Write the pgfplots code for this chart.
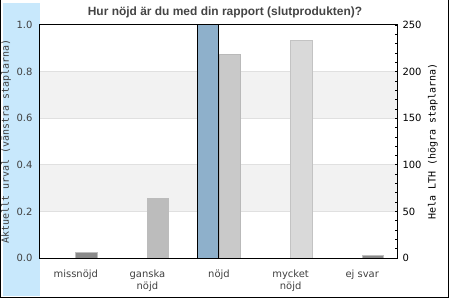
\documentclass[border=0pt]{standalone}
\usepackage{pgfplots}
\pgfplotsset{compat=1.18}
\usepackage{fontspec}
\setmainfont{DejaVu Sans}
\setmonofont{DejaVu Sans Mono}
\newfontfamily\titlefont{Liberation Sans}
\definecolor{band}{HTML}{C8E8FC}
\definecolor{bandgray}{HTML}{F2F2F2}
\definecolor{gridgray}{HTML}{E0E0E0}
\definecolor{barblue}{HTML}{8EB0CB}
\definecolor{tickgray}{HTML}{404040}
\definecolor{titlegray}{HTML}{444444}
\definecolor{gA}{HTML}{8A8A8A}
\definecolor{gAb}{HTML}{BEBEBE}
\definecolor{gB}{HTML}{BCBCBC}
\definecolor{gC}{HTML}{C9C9C9}
\definecolor{gCb}{HTML}{B9B9B9}
\definecolor{gD}{HTML}{D9D9D9}
\definecolor{gDb}{HTML}{C3C3C3}
\begin{document}
\begin{tikzpicture}
\useasboundingbox (-40bp,-42bp) rectangle (410bp,258bp);
\fill[band] (-37bp,-38bp) rectangle (0,255bp);
\draw[black, line width=0.8bp] (-39.6bp,258bp) -- (-39.6bp,-39.5bp) -- (408.4bp,-39.5bp) -- (408.4bp,258bp);
\begin{axis}[
  at={(0,0)}, anchor=south west, scale only axis,
  width=358bp, height=233bp,
  xmin=-0.5, xmax=4.5, ymin=0, ymax=1,
  xtick={0,1,2,3,4},
  xticklabels={missnöjd,{ganska\\nöjd},nöjd,{mycket\\nöjd},ej svar},
  xticklabel style={align=center, font=\fontsize{10}{12}\selectfont, text=tickgray, yshift=-8bp},
  ytick={0,0.2,0.4,0.6,0.8,1},
  yticklabel style={font=\fontsize{10}{11}\selectfont, text=tickgray, xshift=-4bp, /pgf/number format/.cd, fixed, fixed zerofill, precision=1, assume math mode=true},
  major tick length=0pt,
  axis line style={line width=1bp},
  clip=false,
]
\fill[bandgray] (axis cs:-0.5,0.2) rectangle (axis cs:4.5,0.4);
\fill[bandgray] (axis cs:-0.5,0.6) rectangle (axis cs:4.5,0.8);
\draw[gridgray, line width=0.8bp] (axis cs:-0.5,0.2) -- (axis cs:4.5,0.2);
\draw[gridgray, line width=0.8bp] (axis cs:-0.5,0.4) -- (axis cs:4.5,0.4);
\draw[gridgray, line width=0.8bp] (axis cs:-0.5,0.6) -- (axis cs:4.5,0.6);
\draw[gridgray, line width=0.8bp] (axis cs:-0.5,0.8) -- (axis cs:4.5,0.8);
\addplot[ybar, bar width=0.3, bar shift=-0.15, fill=barblue, draw=black, line width=1bp] coordinates {(2,1)};
\end{axis}
\begin{axis}[
  at={(0,0)}, anchor=south west, scale only axis,
  width=358bp, height=233bp,
  xmin=-0.5, xmax=4.5, ymin=0, ymax=250,
  axis y line*=right, axis x line=none,
  ytick={0,50,100,150,200,250},
  minor ytick={10,20,30,40,60,70,80,90,110,120,130,140,160,170,180,190,210,220,230,240},
  tick align=inside, major tick length=3bp, minor tick length=3bp,
  tick style={black, line width=0.6bp},
  yticklabel style={font=\fontsize{10}{11}\selectfont, text=black, xshift=1bp, /pgf/number format/assume math mode=true},
  axis line style={line width=1bp},
]
\addplot[ybar, bar width=0.3, bar shift=0.15, fill=gA, draw=gAb, line width=0.8bp] coordinates {(0,6)};
\addplot[ybar, bar width=0.3, bar shift=0.15, fill=gB, draw=gB, line width=0.8bp] coordinates {(1,64)};
\addplot[ybar, bar width=0.3, bar shift=0.15, fill=gC, draw=gCb, line width=0.8bp] coordinates {(2,218)};
\addplot[ybar, bar width=0.3, bar shift=0.15, fill=gD, draw=gDb, line width=0.8bp] coordinates {(3,234)};
\addplot[ybar, bar width=0.3, bar shift=0.15, fill=gA, draw=gAb, line width=0.8bp] coordinates {(4,3)};
\end{axis}
\node[text=titlegray, font=\titlefont\bfseries\fontsize{12}{14}\selectfont] at (185bp,246bp) {Hur nöjd är du med din rapport (slutprodukten)?};
\node[rotate=90, font=\ttfamily\fontsize{10}{12}\selectfont, text=tickgray] at (-34bp,116.5bp) {Aktuellt urval (vänstra staplarna)};
\node[rotate=90, font=\ttfamily\fontsize{10}{12}\selectfont, text=black] at (393bp,116.5bp) {Hela LTH (högra staplarna)};
\end{tikzpicture}
\end{document}
